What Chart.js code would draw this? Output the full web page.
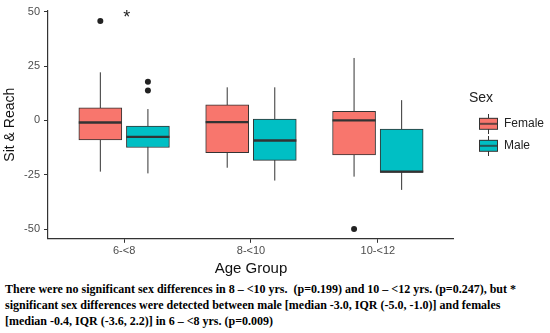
<!DOCTYPE html>
<html>
<head>
<meta charset="utf-8">
<script src="https://cdn.jsdelivr.net/npm/chart.js@4.4.1/dist/chart.umd.min.js"></script>
<style>
  html, body { margin: 0; padding: 0; background: #fff; }
  #wrap { position: relative; width: 550px; height: 333px; overflow: hidden; }
  #chart-box { position: absolute; left: 0; top: 0; width: 550px; height: 278px; }
  #caption {
    position: absolute; left: 5px; top: 281px; width: 545px;
    font-family: "Liberation Serif", "Times New Roman", serif;
    font-weight: bold; font-size: 12px; line-height: 16px; color: #000;
    white-space: nowrap;
  }
</style>
</head>
<body>
<div id="wrap">
  <div id="chart-box"><canvas id="chart"></canvas></div>
  <div id="caption">There were no significant sex differences in 8 – &lt;10 yrs.&nbsp; (p=0.199) and 10 – &lt;12 yrs. (p=0.247), but *<br>significant sex differences were detected between male [median -3.0, IQR (-5.0, -1.0)] and females<br>[median -0.4, IQR (-3.6, 2.2)] in 6 – &lt;8 yrs. (p=0.009)</div>
</div>
<script>
// age groups on the x axis
const ageGroups = ["6-<8", "8-<10", "10-<12"];
const yTicks = [-50, -25, 0, 25, 50];

// box statistics
const femaleMin = [-23.6, -21.8, -25.9];
const femaleQ1 = [-9.0, -14.9, -15.9];
const femaleMedian = [-1.0, -0.8, 0.0];
const femaleQ3 = [5.8, 7.2, 4.1];
const femaleMax = [22.1, 15.2, 28.7];
const femaleOutliers = [[45.7], [], [-50.0]];

const maleMin = [-24.4, -27.7, -32.0];
const maleQ1 = [-12.5, -18.4, -23.9];
const maleMedian = [-7.6, -9.3, -23.6];
const maleQ3 = [-2.6, 0.6, -4.0];
const maleMax = [5.2, 15.2, 9.3];
const maleOutliers = [[17.8, 13.7], [], []];

// significance mark
const starGroup = 0.02;
const starValue = 48.5;

const femaleColor = "#F8766D";
const maleColor = "#00BFC4";
const inkColor = "#333333";
const dodge = 0.1875;   // half of the dodge width
const halfBox = 0.17;   // half box width in category units

function boxes(q1, q3, shift) {
  return ageGroups.map((_, i) => ({ x: i + shift, y: [q1[i], q3[i]] }));
}
function whiskers(lo, hi, shift) {
  const pts = [];
  ageGroups.forEach((_, i) => {
    pts.push({ x: i + shift, y: lo[i] }, { x: i + shift, y: hi[i] }, { x: i + shift, y: null });
  });
  return pts;
}
function medians(med, shift) {
  const pts = [];
  ageGroups.forEach((_, i) => {
    pts.push({ x: i + shift - halfBox, y: med[i] }, { x: i + shift + halfBox, y: med[i] }, { x: i, y: null });
  });
  return pts;
}
function outliers(list, shift) {
  const pts = [];
  list.forEach((vals, i) => vals.forEach(v => pts.push({ x: i + shift, y: v })));
  return pts;
}

// legend key: a little boxplot glyph
function makeKey(color) {
  const c = document.createElement("canvas");
  c.width = 19; c.height = 20;
  const g = c.getContext("2d");
  g.strokeStyle = inkColor;
  g.lineWidth = 1;
  g.beginPath(); g.moveTo(9.5, 0); g.lineTo(9.5, 20); g.stroke();
  g.fillStyle = color;
  g.fillRect(0.5, 4.5, 18, 11);
  g.strokeRect(0.5, 4.5, 18, 11);
  g.lineWidth = 1.5;
  g.beginPath(); g.moveTo(0.5, 10); g.lineTo(18.5, 10); g.stroke();
  return c;
}

const starPlugin = {
  id: "sigStar",
  afterDatasetsDraw(chart) {
    const { ctx, scales } = chart;
    ctx.save();
    ctx.font = '18px "Liberation Sans", Arial, sans-serif';
    ctx.fillStyle = "#222";
    ctx.textAlign = "center";
    ctx.textBaseline = "middle";
    ctx.fillText("*", scales.x.getPixelForValue(starGroup), scales.y.getPixelForValue(starValue) + 3);
    ctx.restore();
  }
};

const lineStyle = { type: "line", borderColor: inkColor, borderWidth: 1, pointRadius: 0, tension: 0, spanGaps: false };

new Chart(document.getElementById("chart"), {
  type: "bar",
  data: {
    datasets: [
      { ...lineStyle, label: "w-f", data: whiskers(femaleMin, femaleMax, -dodge), order: 5 },
      { ...lineStyle, label: "w-m", data: whiskers(maleMin, maleMax, dodge), order: 5 },
      {
        label: "Female", data: boxes(femaleQ1, femaleQ3, -dodge), backgroundColor: femaleColor,
        borderColor: inkColor, borderWidth: 1, borderSkipped: false, grouped: false, barThickness: 43, order: 4
      },
      {
        label: "Male", data: boxes(maleQ1, maleQ3, dodge), backgroundColor: maleColor,
        borderColor: inkColor, borderWidth: 1, borderSkipped: false, grouped: false, barThickness: 43, order: 4
      },
      { ...lineStyle, label: "m-f", data: medians(femaleMedian, -dodge), borderWidth: 2.4, order: 3 },
      { ...lineStyle, label: "m-m", data: medians(maleMedian, dodge), borderWidth: 2.4, order: 3 },
      {
        type: "scatter", label: "o", data: outliers(femaleOutliers, -dodge).concat(outliers(maleOutliers, dodge)),
        pointRadius: 3, backgroundColor: "#222", borderWidth: 0, order: 1
      }
    ]
  },
  options: {
    responsive: true,
    maintainAspectRatio: false,
    animation: false,
    layout: { padding: { left: 1.3, top: 10, right: -4, bottom: 0 } },
    scales: {
      x: {
        type: "linear",
        offset: false,
        min: -0.6,
        max: 2.6,
        afterBuildTicks: (axis) => { axis.ticks = ageGroups.map((_, i) => ({ value: i })); },
        ticks: {
          callback: (v) => ageGroups[v] ?? "",
          color: "#4d4d4d",
          font: { family: '"Liberation Sans", Arial', size: 11 },
          maxRotation: 0,
          autoSkip: false,
          padding: 2
        },
        grid: { offset: false, drawOnChartArea: false, tickLength: 4, color: inkColor },
        border: { color: inkColor, width: 1.2 },
        title: {
          display: true, text: "Age Group", color: "#111",
          font: { family: '"Liberation Sans", Arial', size: 15 }, padding: { top: 0, bottom: 0 }
        }
      },
      y: {
        min: -54.5,
        max: 50.5,
        afterBuildTicks: (axis) => { axis.ticks = yTicks.map(v => ({ value: v })); },
        ticks: {
          color: "#4d4d4d",
          font: { family: '"Liberation Sans", Arial', size: 11 },
          padding: 4
        },
        grid: { drawOnChartArea: false, tickLength: 4, color: inkColor },
        border: { color: inkColor, width: 1.2 },
        title: {
          display: true, text: "Sit & Reach", color: "#111",
          font: { family: '"Liberation Sans", Arial', size: 14 }, padding: { top: 0, bottom: 2 }
        }
      },
      // empty right-hand axis, only keeps a gap between the panel and the legend
      gap: {
        type: "linear",
        position: "right",
        ticks: { display: false },
        grid: { display: false },
        border: { display: false },
        afterFit: (axis) => { axis.width = 15; }
      }
    },
    plugins: {
      tooltip: { enabled: false },
      legend: {
        position: "right",
        align: "start",
        title: {
          display: true, text: "Sex", color: "#222", position: "start",
          font: { family: '"Liberation Sans", Arial', size: 14 }, padding: { top: 81, bottom: 0 }
        },
        labels: {
          usePointStyle: true,
          pointStyleWidth: 19,
          boxHeight: 12,
          padding: 10,
          color: "#222",
          font: { family: '"Liberation Sans", Arial', size: 12 },
          generateLabels: () => [
            { text: "Female", pointStyle: makeKey(femaleColor), fillStyle: femaleColor, strokeStyle: inkColor, lineWidth: 0, hidden: false, datasetIndex: 2 },
            { text: "Male", pointStyle: makeKey(maleColor), fillStyle: maleColor, strokeStyle: inkColor, lineWidth: 0, hidden: false, datasetIndex: 3 }
          ]
        }
      }
    }
  },
  plugins: [starPlugin]
});
</script>
</body>
</html>
